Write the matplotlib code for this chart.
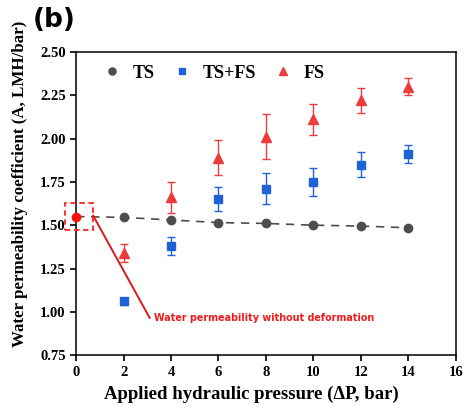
import numpy as np
import matplotlib.pyplot as plt
from matplotlib.patches import Rectangle

# pressure (bar)
pressure = [2, 4, 6, 8, 10, 12, 14]

# water permeability coefficient A (LMH/bar)
a_ts = [1.545, 1.53, 1.515, 1.51, 1.50, 1.495, 1.485]
a_tsfs = [1.06, 1.38, 1.65, 1.71, 1.75, 1.85, 1.91]
err_tsfs = [0.02, 0.05, 0.07, 0.09, 0.08, 0.07, 0.05]
a_fs = [1.34, 1.66, 1.89, 2.01, 2.11, 2.22, 2.30]
err_fs = [0.05, 0.09, 0.10, 0.13, 0.09, 0.07, 0.05]

# no deformation reference point
a0 = 1.55

plt.rcParams['font.family'] = ['Liberation Serif', 'DejaVu Serif']
plt.rcParams['font.weight'] = 'bold'

fig = plt.figure(figsize=(4.67, 4.12), dpi=100)
ax = fig.add_axes([0.163, 0.138, 0.813, 0.736])

c_ts = '#4d4d4d'
c_tsfs = '#1f62d8'
c_fs = '#ee3b3b'

# dashed line through the TS points, starting from the reference
ax.plot([0] + pressure, [a0] + a_ts, ls=(0, (5, 4)), color=c_ts, lw=1.2, zorder=2)
ts_pts, = ax.plot(pressure, a_ts, 'o', color=c_ts, ms=6, zorder=3)
eb1 = ax.errorbar(pressure, a_tsfs, yerr=err_tsfs, fmt='s', color=c_tsfs, ms=5.5,
                  capsize=3, elinewidth=1, capthick=1, zorder=3)
eb2 = ax.errorbar(pressure, a_fs, yerr=err_fs, fmt='^', color=c_fs, ms=6.5,
                  capsize=3, elinewidth=1, capthick=1, zorder=3)

ax.plot([0], [a0], 'o', color='#ff1010', ms=6, zorder=4, clip_on=False)
box = Rectangle((-0.46, 1.47), 1.18, 0.16, fill=False, ls=(0, (3, 2)),
                ec='#ff2020', lw=1.3, clip_on=False, zorder=4)
ax.add_patch(box)
ax.plot([0.72, 3.1], [1.555, 0.965], color='#e01818', lw=1.4, zorder=4)
ax.text(3.3, 0.965, 'Water permeability without deformation', color='#ee1c1c',
        fontsize=6.9, fontweight='bold', family='DejaVu Sans', va='center', ha='left')

ax.set_xlim(0, 16)
ax.set_ylim(0.75, 2.5)
ax.set_xticks(np.arange(0, 17, 2))
ax.set_yticks(np.arange(0.75, 2.51, 0.25))
ax.set_yticklabels([f'{v:.2f}' for v in np.arange(0.75, 2.51, 0.25)])
ax.tick_params(direction='out', length=4, width=1.2, labelsize=10.5)
for s in ax.spines.values():
    s.set_linewidth(1.1)

ax.set_xlabel('Applied hydraulic pressure (\u0394P, bar)', fontsize=13.5, fontweight='bold')
ax.set_ylabel('Water permeability coefficient (A, LMH/bar)', fontsize=12.2, fontweight='bold')
ax.xaxis.set_label_coords(0.462, -0.1)
ax.yaxis.set_label_coords(-0.128, 0.564)

ax.legend([ts_pts, eb1[0], eb2[0]], ['TS', 'TS+FS', 'FS'], loc='center left',
          bbox_to_anchor=(0.076, 0.93), ncol=3, frameon=False, fontsize=13,
          borderpad=0, borderaxespad=0, markerscale=0.85,
          handletextpad=0.75, columnspacing=1.1, handlelength=0.8)

fig.text(0.07, 0.982, '(b)', fontsize=19, fontweight='bold', family='DejaVu Sans',
         va='top', ha='left')

fig.savefig('out.png', dpi=100)
